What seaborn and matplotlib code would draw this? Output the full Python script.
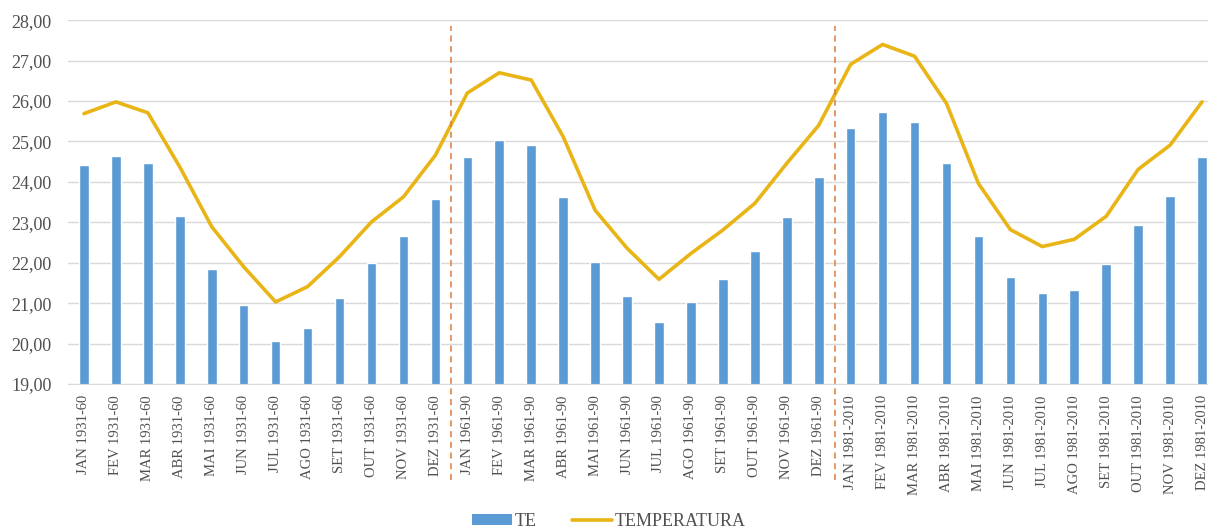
import numpy as np
import pandas as pd
import matplotlib
matplotlib.use("Agg")
import matplotlib.pyplot as plt
from matplotlib.patches import Patch
from matplotlib.lines import Line2D
import seaborn as sns

months = ["JAN", "FEV", "MAR", "ABR", "MAI", "JUN", "JUL", "AGO", "SET", "OUT", "NOV", "DEZ"]
periods = ["1931-60", "1961-90", "1981-2010"]

te_1931 = [24.43, 24.65, 24.46, 23.16, 21.84, 20.95, 20.07, 20.38, 21.14, 21.99, 22.67, 23.58]
te_1961 = [24.61, 25.03, 24.92, 23.62, 22.02, 21.18, 20.53, 21.03, 21.60, 22.29, 23.12, 24.12]
te_1981 = [25.34, 25.72, 25.49, 24.46, 22.67, 21.64, 21.26, 21.33, 21.98, 22.93, 23.66, 24.61]

temp_1931 = [25.69, 25.98, 25.71, 24.37, 22.89, 21.90, 21.03, 21.41, 22.15, 23.01, 23.63, 24.66]
temp_1961 = [26.20, 26.70, 26.52, 25.12, 23.30, 22.36, 21.59, 22.23, 22.81, 23.47, 24.46, 25.40]
temp_1981 = [26.91, 27.40, 27.11, 25.94, 23.96, 22.82, 22.40, 22.58, 23.15, 24.31, 24.91, 25.98]

labels = [f"{m} {p}" for p in periods for m in months]
df = pd.DataFrame({
    "periodo": labels,
    "pos": np.arange(len(labels)),
    "TE": te_1931 + te_1961 + te_1981,
    "TEMPERATURA": temp_1931 + temp_1961 + temp_1981,
})

sns.set_style("white")
plt.rcParams["font.family"] = ["Liberation Serif", "DejaVu Serif"]

bar_color = "#5B9BD5"
line_color = "#E9B516"
text_color = "#505050"

fig = plt.figure(figsize=(12.08, 5.28), dpi=100)
ax = fig.add_axes([0.0563, 0.2727, 0.952, 0.689])

sns.barplot(data=df, x="periodo", y="TE", color=bar_color, width=0.3,
            saturation=1, ax=ax, zorder=2)
sns.lineplot(data=df, x="pos", y="TEMPERATURA", color=line_color, linewidth=2.6,
             ax=ax, zorder=3, sort=False)

ax.set_xlim(-0.5, len(labels) - 0.5)
ax.set_ylim(19, 28)
yvals = np.arange(19, 28.01, 1)
ax.set_yticks(yvals)
ax.set_yticklabels([f"{v:.2f}".replace(".", ",") for v in yvals],
                   fontsize=13, color=text_color)
ax.set_xticks(np.arange(len(labels)))
ax.set_xticklabels(labels, rotation=90, fontsize=10.5, color=text_color)
ax.tick_params(axis="x", length=0, pad=8)
ax.tick_params(axis="y", length=0, pad=12)
ax.set_xlabel("")
ax.set_ylabel("")

ax.grid(axis="y", color="#D9D9D9", linewidth=1, zorder=0)
ax.set_axisbelow(True)
for side in ["top", "right", "left"]:
    ax.spines[side].set_visible(False)
ax.spines["bottom"].set_color("#D9D9D9")

# separators between the three normal periods
for xsep in [11.5, 23.5]:
    ax.axvline(xsep, ymin=-0.265, ymax=0.985, color="#E07B39", linestyle=(0, (4, 3)),
               linewidth=1.1, clip_on=False, zorder=4)

handles = [
    Patch(facecolor=bar_color, edgecolor="none", label="TE"),
    Line2D([0], [0], color=line_color, linewidth=2.6, label="TEMPERATURA"),
]
fig.legend(handles=handles, loc="lower center", ncol=2, frameon=False,
           bbox_to_anchor=(0.504, -0.035), fontsize=13, labelcolor=text_color,
           handlelength=2.2, handleheight=0.55, columnspacing=2.0, handletextpad=0.15)

fig.savefig("out.png", dpi=100)
